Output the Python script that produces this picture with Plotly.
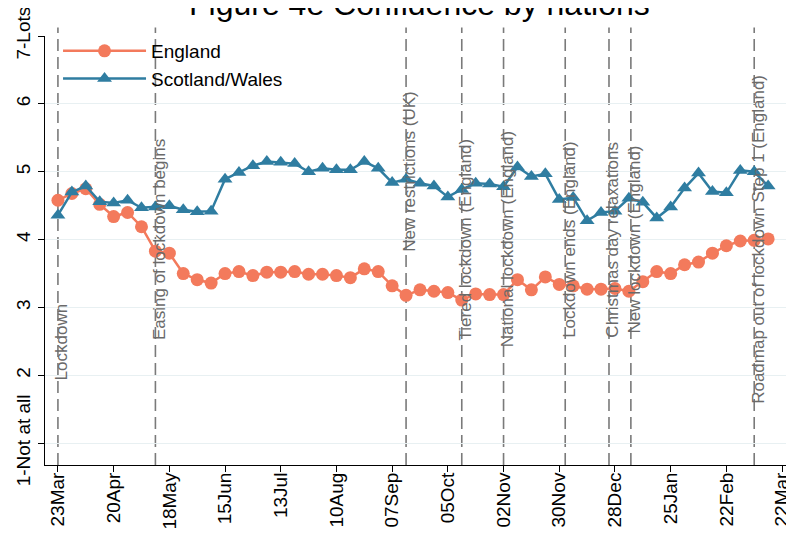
import pandas as pd
import plotly.graph_objects as go

# ---- data -------------------------------------------------------------
dates = pd.date_range("2020-03-23", periods=52, freq="7D")

england = [4.58, 4.68, 4.75, 4.52, 4.34, 4.40, 4.19, 3.83, 3.80, 3.50,
           3.41, 3.36, 3.50, 3.53, 3.47, 3.52, 3.52, 3.53, 3.49, 3.49,
           3.47, 3.44, 3.57, 3.53, 3.32, 3.18, 3.26, 3.24, 3.22, 3.11,
           3.20, 3.19, 3.19, 3.41, 3.26, 3.45, 3.34, 3.32, 3.27, 3.27,
           3.28, 3.24, 3.38, 3.53, 3.50, 3.63, 3.67, 3.80, 3.91, 3.98,
           3.99, 4.01]

scotland_wales = [4.36, 4.70, 4.79, 4.56, 4.54, 4.58, 4.47, 4.48, 4.50, 4.44,
                  4.41, 4.42, 4.89, 4.99, 5.09, 5.15, 5.14, 5.12, 5.00, 5.05,
                  5.03, 5.03, 5.15, 5.05, 4.84, 4.89, 4.83, 4.79, 4.63, 4.74,
                  4.83, 4.82, 4.78, 5.07, 4.93, 4.97, 4.59, 4.62, 4.28, 4.40,
                  4.42, 4.61, 4.55, 4.32, 4.48, 4.76, 4.98, 4.71, 4.69, 5.02,
                  5.00, 4.79]

event_dates = ["2020-03-23", "2020-05-11", "2020-09-14", "2020-10-12",
               "2020-11-02", "2020-12-03", "2020-12-25", "2021-01-05",
               "2021-03-08"]
event_labels = ["Lockdown", "Easing of lockdown begins", "New restrictions (UK)",
                "Tiered lockdown (England)", "National lockdown (England)",
                "Lockdown ends (England)", "Christmas day relaxations",
                "New lockdown (England)", "Roadmap out of lockdown Step 1 (England)"]
event_label_y = [2.5, 4.0, 5.0, 4.0, 4.0, 4.0, 4.0, 4.0, 4.0]

xtick_vals = ["2020-03-23", "2020-04-20", "2020-05-18", "2020-06-15", "2020-07-13",
              "2020-08-10", "2020-09-07", "2020-10-05", "2020-11-02", "2020-11-30",
              "2020-12-28", "2021-01-25", "2021-02-22", "2021-03-22"]
xtick_text = ["23Mar", "20Apr", "18May", "15Jun", "13Jul", "10Aug", "07Sep",
              "05Oct", "02Nov", "30Nov", "28Dec", "25Jan", "22Feb", "22Mar"]
ytick_vals = [1, 2, 3, 4, 5, 6, 7]
ytick_text = ["1-Not at all", "2", "3", "4", "5", "6", "7-Lots"]

title = "Figure 4e Confidence by nations"

# ---- style ------------------------------------------------------------
FONT = "Liberation Sans, Arial, sans-serif"
ORANGE = "#F37A5C"
BLUE = "#2F7DA1"
LINEGREY = "#7a7a7a"
TEXTGREY = "#6a6a6a"

fig = go.Figure()
fig.add_trace(go.Scatter(
    x=dates, y=england, name="England", mode="lines+markers",
    line=dict(color=ORANGE, width=2.5),
    marker=dict(symbol="circle", size=13, color=ORANGE, line=dict(width=0)),
))
fig.add_trace(go.Scatter(
    x=dates, y=scotland_wales, name="Scotland/Wales", mode="lines+markers",
    line=dict(color=BLUE, width=2.5),
    marker=dict(symbol="triangle-up", size=13, color=BLUE, line=dict(width=0)),
))

for d, lab, ly in zip(event_dates, event_labels, event_label_y):
    fig.add_shape(type="line", xref="x", yref="paper", x0=d, x1=d, y0=0, y1=1.02,
                  line=dict(color=LINEGREY, width=1.6, dash="12px,6px"), layer="below")
    fig.add_annotation(x=d, y=ly, xref="x", yref="y", text=lab, textangle=-90,
                       showarrow=False, xanchor="center", yanchor="middle", xshift=4,
                       font=dict(family=FONT, size=17, color=TEXTGREY))

fig.add_annotation(text=title, xref="paper", yref="paper", x=0.5, y=1.0745,
                   xanchor="center", yanchor="middle", showarrow=False,
                   font=dict(family=FONT, size=32, color="black"))

fig.update_layout(
    width=794, height=534,
    margin=dict(l=37, r=8, t=28, b=77, pad=0, autoexpand=False),
    paper_bgcolor="white", plot_bgcolor="white",
    font=dict(family=FONT, size=19, color="black"),
    showlegend=True,
    legend=dict(x=0.0174, y=1.0093, xanchor="left", yanchor="top",
                bgcolor="rgba(0,0,0,0)", borderwidth=0,
                font=dict(family=FONT, size=19, color="black"),
                itemwidth=83, tracegroupgap=0),
    xaxis=dict(
        type="date", range=["2020-03-16 12:00", "2021-03-28"],
        tickvals=xtick_vals, ticktext=xtick_text, tickangle=-90,
        ticks="outside", ticklen=6, tickwidth=1, tickcolor="black",
        showline=True, linecolor="black", linewidth=1, showgrid=False,
        zeroline=False, automargin=False, ticklabelstandoff=-7,
        ticklabeloverflow="allow",
        tickfont=dict(family=FONT, size=19, color="black"),
    ),
    yaxis=dict(
        range=[0.68, 7.0], tickvals=ytick_vals, ticktext=ytick_text, tickangle=-90,
        ticks="outside", ticklen=6, tickwidth=1, tickcolor="black",
        showline=True, linecolor="black", linewidth=1, automargin=False,
        ticklabeloverflow="allow",
        showgrid=True, gridcolor="#e8f0f2", gridwidth=1.2, zeroline=False,
        tickfont=dict(family=FONT, size=19, color="black"),
    ),
)

fig.write_html("out.html")
